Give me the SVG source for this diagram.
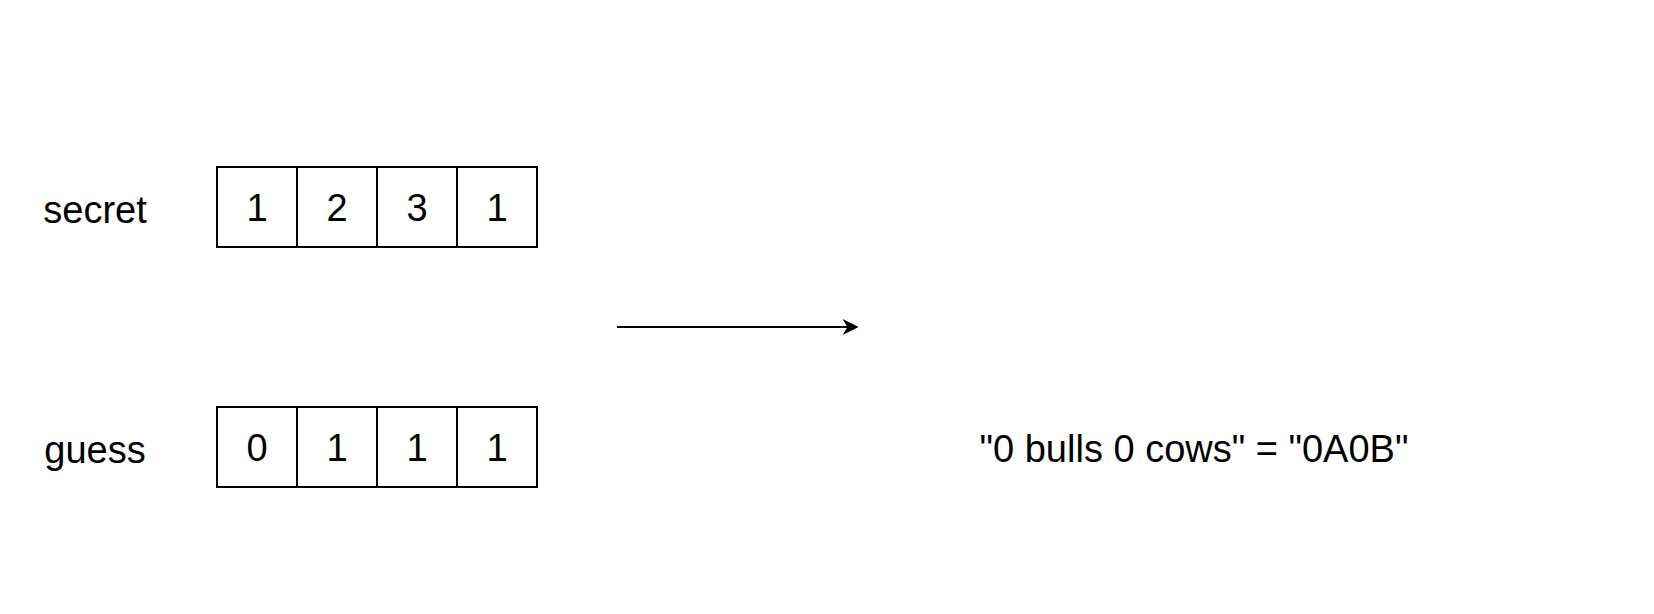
<svg xmlns="http://www.w3.org/2000/svg" width="1654" height="614" viewBox="0 0 1654 614">
<defs>
<style>
.cell{fill:#fff;stroke:#000;stroke-width:2}
.t{font-family:"Comic Sans MS","Liberation Sans",sans-serif;font-size:38px;fill:#000;text-anchor:middle}
.edge{stroke:#000;stroke-width:2;fill:none}
</style>
<marker id="ah" viewBox="0 0 10 10" refX="9" refY="5" markerWidth="17" markerHeight="16" markerUnits="userSpaceOnUse" orient="auto">
<path d="M0,0 L10,5 L0,10 L3,5 z" fill="#000"/>
</marker>
</defs>
<rect width="1654" height="614" fill="#fff"/>
<g id="label-secret"><text class="t" x="95" y="223">secret</text></g>
<g id="secret-array">
<rect class="cell" x="217" y="167" width="80" height="80"/>
<rect class="cell" x="297" y="167" width="80" height="80"/>
<rect class="cell" x="377" y="167" width="80" height="80"/>
<rect class="cell" x="457" y="167" width="80" height="80"/>
<text class="t" x="257" y="221">1</text>
<text class="t" x="337" y="221">2</text>
<text class="t" x="417" y="221">3</text>
<text class="t" x="497" y="221">1</text>
</g>
<g id="label-guess"><text class="t" x="95" y="463">guess</text></g>
<g id="guess-array">
<rect class="cell" x="217" y="407" width="80" height="80"/>
<rect class="cell" x="297" y="407" width="80" height="80"/>
<rect class="cell" x="377" y="407" width="80" height="80"/>
<rect class="cell" x="457" y="407" width="80" height="80"/>
<text class="t" x="257" y="461">0</text>
<text class="t" x="337" y="461">1</text>
<text class="t" x="417" y="461">1</text>
<text class="t" x="497" y="461">1</text>
</g>
<g id="result"><text class="t" x="1194" y="462">"0 bulls 0 cows" = "0A0B"</text></g>
<g id="connectors">
<line class="edge" x1="617" y1="327" x2="857" y2="327" marker-end="url(#ah)"/>
</g>
</svg>
